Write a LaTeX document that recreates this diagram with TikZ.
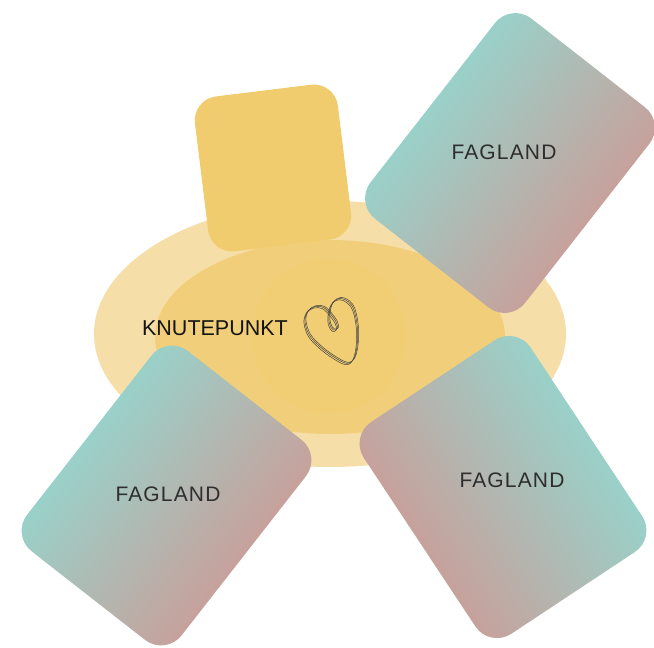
\documentclass[tikz,border=0pt]{standalone}
\usepackage{fontspec}
\setmainfont{Liberation Sans}
\definecolor{hub}{HTML}{F1CC6F}
\definecolor{halo}{HTML}{F5DEA8}
\definecolor{teal}{HTML}{99D1C9}
\definecolor{rose}{HTML}{C7A19C}
\tikzset{
  cardbox/.style={rounded corners=26pt},
  cardlabel/.style={text=black!82,font=\fontsize{21}{24}\selectfont\addfontfeature{LetterSpace=5.5}},
  hublabel/.style={text=black!92,font=\fontsize{21.5}{25}\selectfont},
  heartline/.style={draw=black!72,line width=.5pt,line join=round}
}
\newcommand{\heartpath}{plot[smooth,tension=.6] coordinates {(150,100)(130,82)(105,80)(82,95)(75,125)(88,165)(120,200)(160,230)(200,250)(222,235)(232,190)(232,140)(222,90)(205,65)(180,55)(158,68)(148,95)(148,130)(160,150)(172,145)(168,125)(150,100)}}
\begin{document}
\begin{tikzpicture}[x=1pt,y=-1pt]
\useasboundingbox (0,0) rectangle (654,648);
% hub
\fill[halo] (330,334) ellipse [x radius=236,y radius=133];
\path[transform canvas={shift={(273,168)},rotate=7},fill=hub,rounded corners=24pt] (-72,-78) rectangle (72,78);
\fill[hub,opacity=.8] (330,337) ellipse [x radius=175,y radius=97];
\fill[hub,opacity=.6] (329,336) circle [radius=77];
% heart
\begin{scope}[shift={(280,280)},x=.3333pt,y=-.3333pt]
\draw[heartline] \heartpath;
\draw[heartline,shift={(3,-3)}] \heartpath;
\draw[heartline,shift={(-3,4)}] \heartpath;
\end{scope}
% cards
\path[transform canvas={shift={(510,163)},rotate=-38},cardbox,left color=teal,right color=rose] (-98,-127) rectangle (98,127);
\path[transform canvas={shift={(166.5,495.5)},rotate=-38},cardbox,left color=teal,right color=rose] (-98,-127) rectangle (98,127);
\path[transform canvas={shift={(503,487)},rotate=33.5},cardbox,left color=rose,right color=teal] (-100,-127) rectangle (100,127);
% labels
\node[hublabel] (hub) at (215,328) {KNUTEPUNKT};
\node[cardlabel] (f1) at (504,152) {FAGLAND};
\node[cardlabel] (f2) at (168,494) {FAGLAND};
\node[cardlabel] (f3) at (512,480) {FAGLAND};
\end{tikzpicture}
\end{document}
